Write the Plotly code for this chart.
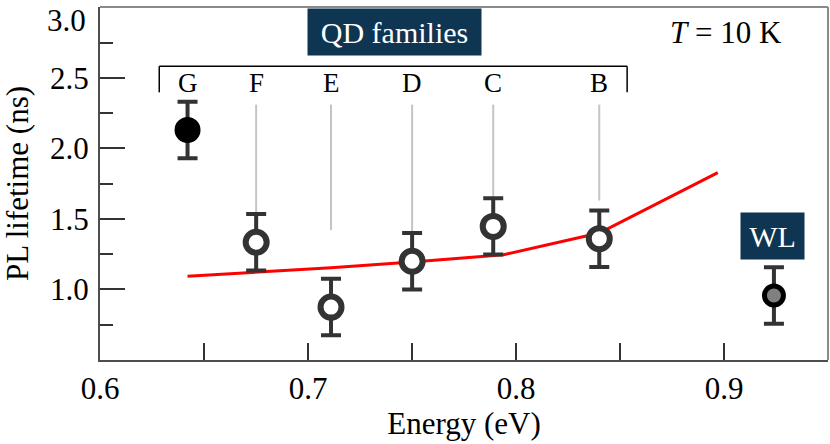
import plotly.graph_objects as go

# ---- data ----
family_labels = ["G", "F", "E", "D", "C", "B"]
family_energy = [0.642, 0.675, 0.711, 0.750, 0.789, 0.840]
family_lifetime = [2.13, 1.335, 0.875, 1.20, 1.447, 1.36]
family_err = [0.2, 0.2, 0.2, 0.2, 0.2, 0.2]

wl_energy = [0.924]
wl_lifetime = [0.957]
wl_err = [0.2]

model_energy = [0.642, 0.675, 0.711, 0.750, 0.794, 0.840, 0.897]
model_lifetime = [1.094, 1.123, 1.154, 1.194, 1.246, 1.40, 1.828]

guide_top = 2.31
guide_bottom = [None, 1.54, 1.42, 1.40, 1.66, 1.63]

bracket_x = [0.6284, 0.8534]
bracket_y = [2.582, 2.397]
letter_y = 2.46

x_range = [0.5999, 0.95]
y_range = [0.5, 3.002]
x_tickvals = [0.6, 0.7, 0.8, 0.9]
x_ticktext = ["0.6", "0.7", "0.8", "0.9"]
y_tickvals = [1.0, 1.5, 2.0, 2.5, 3.0]
y_ticktext = ["1.0", "1.5", "2.0", "2.5", "3.0"]

FONT = "Liberation Serif"
ERRC = "#333333"
BOX = "#0e3551"

fig = go.Figure()

# gray guide lines
gx, gy = [], []
for e, b in zip(family_energy, guide_bottom):
    if b is None:
        continue
    gx += [e, e, None]
    gy += [guide_top, b, None]
fig.add_trace(go.Scatter(x=gx, y=gy, mode="lines",
                         line=dict(color="#c4c4c4", width=2),
                         hoverinfo="skip", showlegend=False))

# red model line
fig.add_trace(go.Scatter(x=model_energy, y=model_lifetime, mode="lines",
                         line=dict(color="#ff0000", width=3),
                         showlegend=False))

# G (filled black)
fig.add_trace(go.Scatter(
    x=family_energy[:1], y=family_lifetime[:1], mode="markers",
    marker=dict(size=21, color="#000000", line=dict(color="#000000", width=5)),
    error_y=dict(type="data", array=family_err[:1], visible=True,
                 color=ERRC, thickness=4, width=10),
    showlegend=False))

# F..B open circles
fig.add_trace(go.Scatter(
    x=family_energy[1:], y=family_lifetime[1:], mode="markers",
    marker=dict(size=21, color="#ffffff", line=dict(color=ERRC, width=6)),
    error_y=dict(type="data", array=family_err[1:], visible=True,
                 color=ERRC, thickness=4, width=10),
    showlegend=False))

# WL
fig.add_trace(go.Scatter(
    x=wl_energy, y=wl_lifetime, mode="markers",
    marker=dict(size=19, color="#808080", line=dict(color="#000000", width=5)),
    error_y=dict(type="data", array=wl_err, visible=True,
                 color=ERRC, thickness=4, width=10),
    showlegend=False))

# bracket
shapes = [
    dict(type="line", xref="x", yref="y", x0=bracket_x[0], x1=bracket_x[1],
         y0=bracket_y[0], y1=bracket_y[0], line=dict(color="#000000", width=1.5)),
    dict(type="line", xref="x", yref="y", x0=bracket_x[0], x1=bracket_x[0],
         y0=bracket_y[0], y1=bracket_y[1], line=dict(color="#000000", width=1.5)),
    dict(type="line", xref="x", yref="y", x0=bracket_x[1], x1=bracket_x[1],
         y0=bracket_y[0], y1=bracket_y[1], line=dict(color="#000000", width=1.5)),
    # top and right frame (lighter)
    dict(type="line", xref="paper", yref="paper", x0=0, x1=1, y0=1, y1=1,
         line=dict(color="#8a8a8a", width=2)),
    dict(type="line", xref="paper", yref="paper", x0=1, x1=1, y0=0, y1=1,
         line=dict(color="#8a8a8a", width=2)),
]

annotations = []
for lab, e in zip(family_labels, family_energy):
    annotations.append(dict(x=e, y=letter_y, xref="x", yref="y", text=lab,
                            showarrow=False,
                            font=dict(family=FONT, size=27, color="#000000")))
annotations.append(dict(x=0.7416, y=2.823, xref="x", yref="y", text="QD families",
                        showarrow=False, bgcolor=BOX, width=173, height=46,
                        borderpad=0,
                        font=dict(family=FONT, size=30, color="#ffffff")))
annotations.append(dict(x=0.9233, y=1.376, xref="x", yref="y", text="WL",
                        showarrow=False, bgcolor=BOX, width=63, height=46,
                        borderpad=0,
                        font=dict(family=FONT, size=30, color="#ffffff")))
annotations.append(dict(x=0.901, y=2.823, xref="x", yref="y",
                        text="<i>T</i> = 10 K", showarrow=False,
                        font=dict(family=FONT, size=31, color="#000000")))
# top y tick label (placed as annotation so it is not clipped at the page top)
annotations.append(dict(x=0, xref="paper", y=1, yref="paper",
                        text=y_ticktext[-1], showarrow=False,
                        xanchor="right", yanchor="top", xshift=-12, yshift=6,
                        font=dict(family=FONT, size=31, color="#000000")))
axis_ticktext_y = y_ticktext[:-1] + [""]

fig.update_layout(
    width=830, height=444,
    margin=dict(l=100, r=2, t=7, b=84),
    paper_bgcolor="#ffffff", plot_bgcolor="#ffffff",
    font=dict(family=FONT, size=30, color="#000000"),
    shapes=shapes, annotations=annotations,
    xaxis=dict(range=x_range, tickvals=x_tickvals, ticktext=x_ticktext,
               automargin=False,
               ticks="inside", ticklen=17, tickwidth=1.5, tickcolor="#333333",
               minor=dict(dtick=0.05, tick0=0.6, ticks="inside", ticklen=17,
                          tickwidth=1.5, tickcolor="#333333", showgrid=False),
               showline=True, linecolor="#4d4d4d", linewidth=2,
               showgrid=False, zeroline=False,
               tickfont=dict(family=FONT, size=31),
               title=dict(text="Energy (eV)", font=dict(family=FONT, size=31),
                          standoff=5)),
    yaxis=dict(range=y_range, tickvals=y_tickvals, ticktext=axis_ticktext_y,
               automargin=False, ticklabelstandoff=3,
               ticks="inside", ticklen=25, tickwidth=1.5, tickcolor="#333333",
               minor=dict(dtick=0.25, tick0=0.5, ticks="inside", ticklen=13,
                          tickwidth=1.5, tickcolor="#333333", showgrid=False),
               showline=True, linecolor="#4d4d4d", linewidth=2,
               showgrid=False, zeroline=False,
               tickfont=dict(family=FONT, size=31),
               title=dict(text="PL lifetime (ns)", font=dict(family=FONT, size=31),
                          standoff=27)),
)

fig.write_html("out.html", config={"displayModeBar": False},
               post_script="document.body.style.margin='0px';")
